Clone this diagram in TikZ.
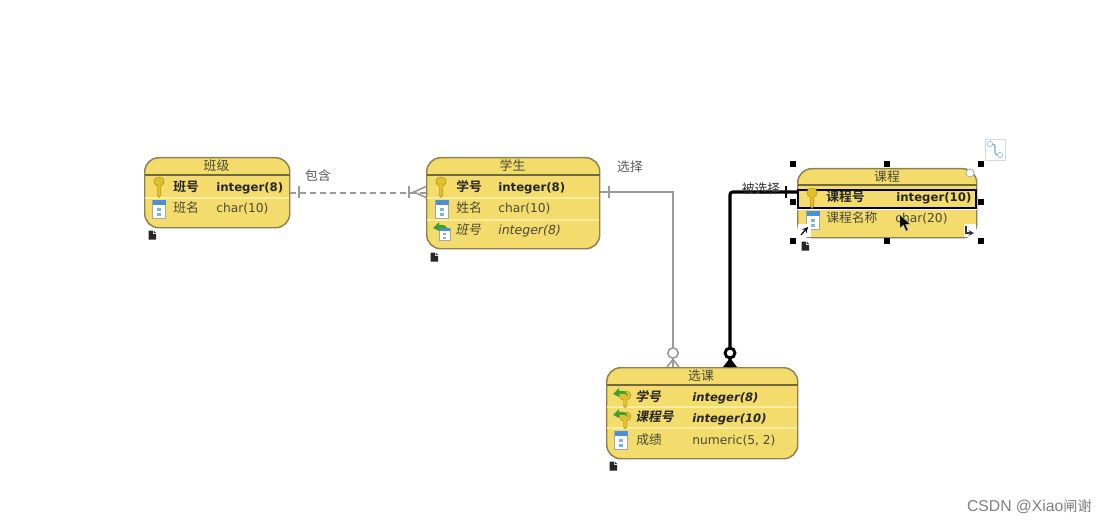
\documentclass[tikz,border=0pt]{standalone}
\usepackage{fontspec}
\setmainfont{DejaVu Sans}
\newfontfamily\cjk{Noto Sans CJK SC}[BoldFont={Noto Sans CJK SC Bold}]
\newfontfamily\wmfont{Liberation Sans}
\definecolor{ent}{HTML}{F3DC6B}
\definecolor{entb}{HTML}{8C8250}
\definecolor{sepc}{HTML}{FBEE9E}
\definecolor{conn}{HTML}{9A9A9A}
\definecolor{keyc}{HTML}{E2C02C}
\definecolor{fkg}{HTML}{3FA02E}
\definecolor{colb}{HTML}{4A8FD8}
\definecolor{txt}{HTML}{4A4A3A}
\tikzset{
 x=0.75pt,y=-0.75pt,
 entity/.style={draw=entb,line width=1.1pt,fill=ent,rounded corners=10.5pt,inner sep=0pt,anchor=north west},
 ehead/.style={font=\cjk\fontsize{9.6}{11}\selectfont,text=txt,anchor=center,inner sep=0pt},
 cname/.style={font=\cjk\fontsize{9.6}{11}\selectfont,text=txt,anchor=west,inner sep=0pt},
 cnameb/.style={font=\cjk\bfseries\fontsize{9.6}{11}\selectfont,text=black!85,anchor=west,inner sep=0pt},
 cnamei/.style={font=\cjk\fontsize{9.6}{11}\selectfont,text=txt,anchor=west,inner sep=0pt,xslant=0.2},
 cnamebi/.style={font=\cjk\bfseries\fontsize{9.6}{11}\selectfont,text=black!85,anchor=west,inner sep=0pt,xslant=0.2},
 ctype/.style={font=\fontsize{9.2}{11}\selectfont,text=txt,anchor=west,inner sep=0pt},
 ctypeb/.style={font=\bfseries\fontsize{8.8}{11}\selectfont,text=black!85,anchor=west,inner sep=0pt},
 ctypei/.style={font=\itshape\fontsize{9.4}{11}\selectfont,text=txt,anchor=west,inner sep=0pt},
 ctypebi/.style={font=\bfseries\itshape\fontsize{8.7}{11}\selectfont,text=black!85,anchor=west,inner sep=0pt},
 rel/.style={font=\cjk\fontsize{9.6}{11}\selectfont,text=black!65,inner sep=0pt},
 graylink/.style={draw=conn,line width=1.2pt},
 blacklink/.style={draw=black,line width=2.3pt},
 handle/.style={fill=black,draw=none,minimum size=4.6pt,inner sep=0pt,rectangle},
 keyicon/.pic={
  \fill[keyc,draw=keyc!70!black,line width=.3pt] (-1.8,-1)..controls (-7,-3) and (-6,-10) .. (0,-10)..controls (6,-10) and (7,-3) .. (1.8,-1)--(1.8,8)--(0,10.5)--(-1.8,8)--cycle;
 },
 colicon/.pic={
  \fill[white,draw=black!35,line width=.4pt] (-6.5,-9) rectangle (6.5,9);
  \fill[colb] (-6.5,-9) rectangle (6.5,-4);
  \fill[colb!70] (-1.8,-1.5) rectangle (1.8,1.5);
  \fill[colb!70] (-1.8,3.5) rectangle (1.8,6.5);
 },
 fkcol/.pic={
  \fill[white,draw=black!35,line width=.4pt] (-3,-3) rectangle (8,9);
  \fill[colb] (-3,-3) rectangle (8,0);
  \fill[colb!70] (1,2) rectangle (4,4);
  \fill[colb!70] (1,5.5) rectangle (4,7.5);
  \fill[fkg] (-9,-3)--(-3,-9)--(-3,-6)..controls (2,-7) and (5,-5) .. (6,-1)..controls (3,-4) and (0,-3.5) .. (-3,-3)--(-3,0)--cycle;
 },
 fkkey/.pic={
  \fill[keyc,draw=keyc!70!black,line width=.3pt] (-3,-4)..controls (-3,1) and (0,3) .. (1.5,3)--(1.5,9)--(3,10.5)--(5,9)--(5,3)..controls (10,2) and (10,-5) .. (5,-6)--cycle;
  \fill[fkg] (-9,-3)--(-3,-9)--(-3,-6)..controls (2,-7) and (5,-5) .. (6,-1)..controls (3,-4) and (0,-3.5) .. (-3,-3)--(-3,0)--cycle;
 },
 noteicon/.pic={
  \fill[black!85] (-3.5,-4.5)--(1,-4.5)--(1,-1)--(4,-1)--(4,4.5)--(-3.5,4.5)--cycle;
  \fill[black!85] (1.8,-4.5)--(4,-2)--(1.8,-2)--cycle;
 },
}
\begin{document}
\begin{tikzpicture}
\useasboundingbox (0,0) rectangle (1106,524);
\fill[white] (0,0) rectangle (1106,524);

% ---------- entities
\node[entity,minimum width=108.75pt,minimum height=52.5pt] (banji) at (144,157) {};
\node[entity,minimum width=129.75pt,minimum height=68.25pt] (xuesheng) at (426,157) {};
\node[entity,minimum width=134.25pt,minimum height=51.75pt] (kecheng) at (797,168) {};
\node[entity,minimum width=143.25pt,minimum height=68.25pt] (xuanke) at (606,367) {};

% banji details
\draw[entb!80!black,line width=.8pt] (144.5,175)--(289.5,175);
\draw[sepc,line width=.8pt] (145,198)--(289,198);
\node[ehead] (t1) at (216.5,165.5) {班级};
\pic at (159,187) {keyicon};
\pic at (159,209) {colicon};
\node[cnameb] (t2) at (173,187) {班号};
\node[ctypeb] (t3) at (216,188) {integer(8)};
\node[cname] (t4) at (173,208) {班名};
\node[ctype] (t5) at (216,209) {char(10)};
\pic at (152,235) {noteicon};

% xuesheng details
\draw[entb!80!black,line width=.8pt] (426.5,175)--(599.5,175);
\draw[sepc,line width=.8pt] (427,198)--(599,198);
\draw[sepc,line width=.8pt] (427,220)--(599,220);
\node[ehead] (t6) at (512.5,165.5) {学生};
\pic at (441,187) {keyicon};
\pic at (442,209) {colicon};
\pic at (442,231) {fkcol};
\node[cnameb] (t7) at (456,187) {学号};
\node[ctypeb] (t8) at (498,188) {integer(8)};
\node[cname] (t9) at (456,208) {姓名};
\node[ctype] (t10) at (498,209) {char(10)};
\node[cnamei] (t11) at (456,230) {班号};
\node[ctypei] (t12) at (498,231) {integer(8)};
\pic at (434,257) {noteicon};

% xuanke details
\draw[entb!80!black,line width=.8pt] (606.5,385)--(797.5,385);
\draw[sepc,line width=.8pt] (607,407)--(797,407);
\draw[sepc,line width=.8pt] (607,428)--(797,428);
\node[ehead] (t13) at (701,375.5) {选课};
\pic at (622,397) {fkkey};
\pic at (622,418) {fkkey};
\pic at (621,440) {colicon};
\node[cnamebi] (t14) at (636,397) {学号};
\node[ctypebi] (t15) at (692,398) {integer(8)};
\node[cnamebi] (t16) at (636,417) {课程号};
\node[ctypebi] (t17) at (692,419) {integer(10)};
\node[cname] (t18) at (636,440) {成绩};
\node[ctype] (t19) at (692,441) {numeric(5, 2)};
\pic at (613,466) {noteicon};

% kecheng details
\draw[entb!80!black,line width=.8pt] (797.5,185)--(976.5,185);
\node[ehead] (t20) at (887,176.5) {课程};
\draw[white,line width=1.2pt] (797,209.5)--(977,209.5);
\draw[black!75!blue,line width=1.6pt] (798,190) rectangle (976,208);
\pic at (812,198) {keyicon};
\pic at (813,220) {colicon};
\node[cnameb] (t21) at (826,197) {课程号};
\node[ctypeb] (t22) at (896,198) {integer(10)};
\node[cname] (t23) at (826,218) {课程名称};
\node[ctype] (t24) at (895,219) {char(20)};

% ---------- connectors
\coordinate (xsL) at (426,192.5);
\coordinate (xsR) at (600,192);
\coordinate (kcL) at (797,192);
\coordinate (xkA) at (673,367);
\coordinate (xkB) at (730,367);

\draw[graylink,dashed,dash pattern=on 4.5pt off 3pt] (banji.east) -- (banji.east -| xsL);
\draw[graylink] (299,186)--(299,198);
\draw[graylink] (409,186)--(409,198);
\draw[graylink] (426,186.5)--(414,192)--(426,197.5);
\node[rel] (l1) at (318,176) {包含};

\draw[graylink] (xsR) -- (673,192) -- (xkA);
\draw[graylink] (609,186)--(609,198);
\draw[graylink] (667,367)--(673,359.5)--(679,367);
\draw[graylink,fill=white] (673,353) circle (3.9pt);
\node[rel] (l2) at (630,167) {选择};

\draw[blacklink,rounded corners=2pt] (kcL) -- (730,192) -- (xkB);
\draw[black,line width=2pt] (786,186)--(786,198);
\fill[black] (723,367)--(730,358)--(737,367)--cycle;
\draw[black,line width=2.2pt,fill=white] (730,353) circle (3.7pt);
\node[rel,text=black!80] (l3) at (761,189) {被选择};

% ---------- selection handles and decorations
\foreach \hx/\hy/\hn in {793/164/a,887/164/b,981/164/c,793/202/d,981/202/e,793/241/f,887/241/g,981/241/h}
  \node[handle] (h\hn) at (\hx,\hy) {};

% top right connector button
\fill[white,draw=black!15,line width=.5pt] (985,139) rectangle (1005,160);
\draw[colb!80,line width=.8pt,rounded corners=2pt] (989,144)--(995,144)--(995,155)--(1001,155);
\fill[white,draw=colb!70,line width=.4pt] (990,144) circle (2pt);
\fill[white,draw=colb!70,line width=.4pt] (1000,155) circle (2pt);

% small magnifier
\draw[black!30,fill=white,line width=.7pt] (970,173) circle (3pt);

% note button with arrow
\fill[white] (798,224) rectangle (811,237);
\draw[black,line width=.9pt,-stealth] (801,235)--(808,227);
\fill[white] (798,238) rectangle (811,252);
\pic at (805,246) {noteicon};

% corner resize arrow
\fill[white] (964,224) rectangle (976,237);
\draw[black!80,line width=.8pt,-stealth] (966,226)--(966,233)--(974,233);

% cursor
\fill[black,draw=white!70!black,line width=.3pt] (900,215)--(900,228)--(903.5,225)--(906,231)--(908,230)--(905.5,224.5)--(910,224)--cycle;

% watermark
\node[font=\wmfont\fontsize{11.8}{13}\selectfont,text=black!50,anchor=east,inner sep=0pt] (wm) at (1092,507) {CSDN @Xiao{\cjk\fontsize{10.6}{13}\selectfont 闸谢}};
\end{tikzpicture}
\end{document}
